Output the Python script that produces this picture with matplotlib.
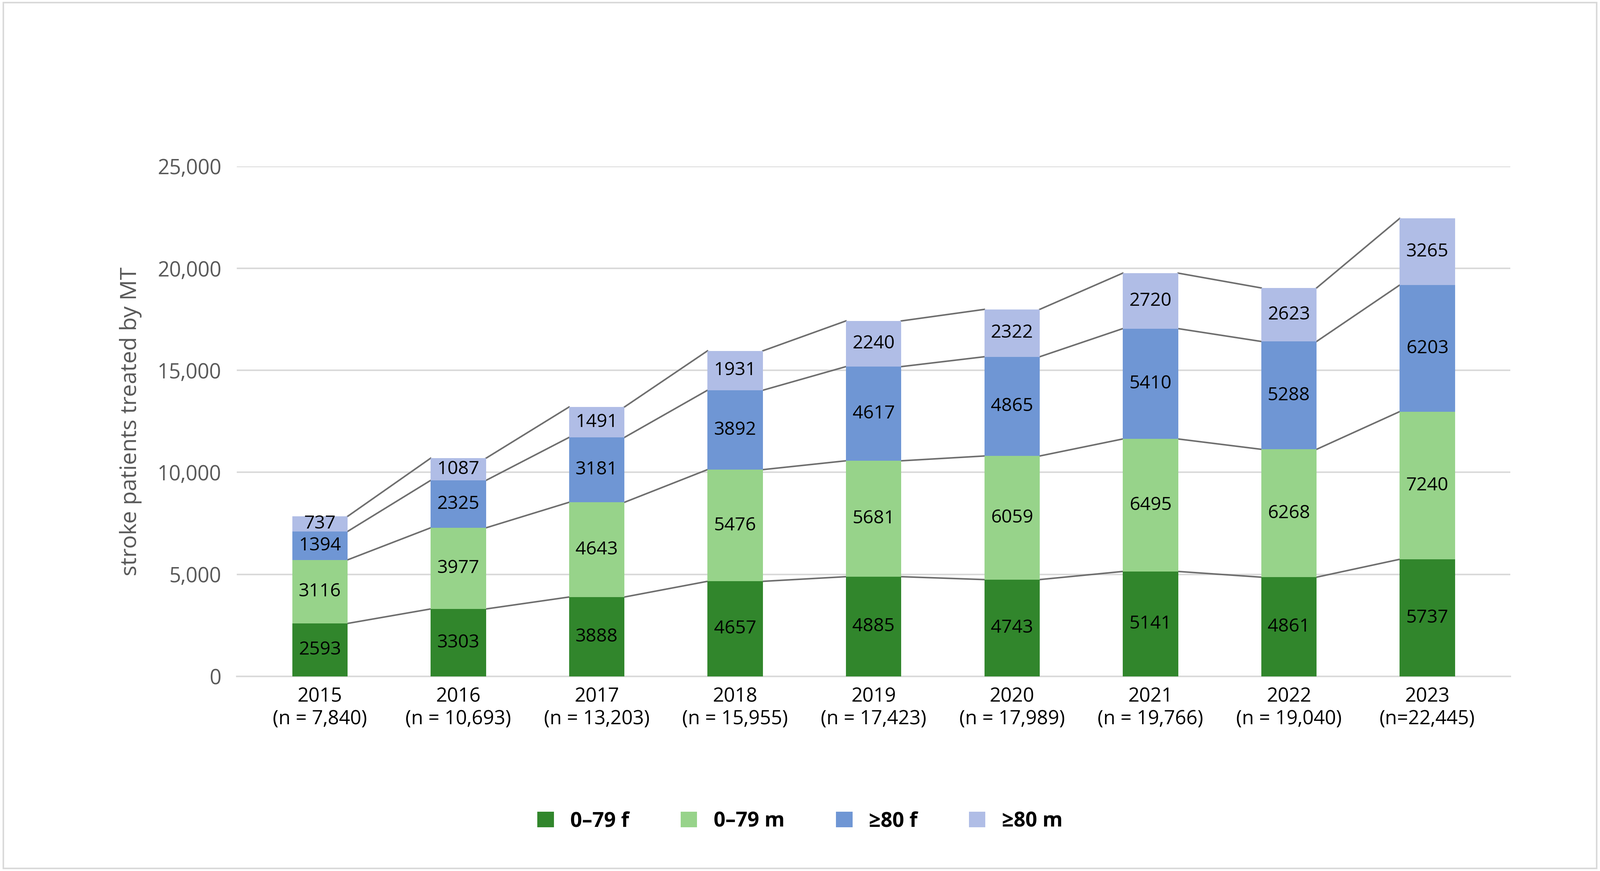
import matplotlib
matplotlib.use("Agg")
import matplotlib.pyplot as plt
import numpy as np

years = ["2015\n(n = 7,840)", "2016\n(n = 10,693)", "2017\n(n = 13,203)", "2018\n(n = 15,955)",
         "2019\n(n = 17,423)", "2020\n(n = 17,989)", "2021\n(n = 19,766)", "2022\n(n = 19,040)", "2023\n(n=22,445)"]
f0_79 = [2593, 3303, 3888, 4657, 4885, 4743, 5141, 4861, 5737]
m0_79 = [3116, 3977, 4643, 5476, 5681, 6059, 6495, 6268, 7240]
f80 = [1394, 2325, 3181, 3892, 4617, 4865, 5410, 5288, 6203]
m80 = [737, 1087, 1491, 1931, 2240, 2322, 2720, 2623, 3265]
series = [("0\u201379 f", f0_79, "#31862C"), ("0\u201379 m", m0_79, "#97D38A"),
          ("\u226580 f", f80, "#6F96D4"), ("\u226580 m", m80, "#B0BDE6")]

plt.rcParams["font.family"] = "Open Sans"
fig = plt.figure(figsize=(43.18, 23.5), dpi=100)
ax = fig.add_axes([0.148, 0.2235, 0.796, 0.5855])
x = np.arange(len(years))
w = 0.4
bottom = np.zeros(len(years))
for name, vals, col in series:
    v = np.array(vals, float)
    ax.bar(x, v, w, bottom=bottom, color=col, label=name, zorder=3)
    for xi, b, vi in zip(x, bottom, v):
        ax.text(xi, b + vi / 2, str(int(vi)), ha="center", va="center", fontsize=36, zorder=4)
    bottom = bottom + v
    for i in range(len(years) - 1):
        ax.plot([x[i] + w / 2, x[i + 1] - w / 2], [bottom[i], bottom[i + 1]], color="#6e6e6e", lw=3, zorder=2)

ax.set_ylim(0, 25000)
ax.set_xlim(-0.6, len(years) - 0.4)
ax.set_yticks(range(0, 25001, 5000))
ax.set_yticklabels([f"{v:,}" for v in range(0, 25001, 5000)], fontsize=40, color="#595959")
ax.set_xticks(x)
ax.set_xticklabels(years, fontsize=38)
ax.tick_params(length=0, pad=20)
ax.tick_params(axis="y", pad=30)
ax.grid(axis="y", color="#d9d9d9", lw=3, zorder=0)
for s in ["top", "right", "left"]:
    ax.spines[s].set_visible(False)
ax.spines["bottom"].set_color("#d9d9d9")
ax.spines["bottom"].set_linewidth(3)
ax.set_ylabel("stroke patients treated by MT", fontsize=44, color="#595959", labelpad=30)
leg = fig.legend(loc="center", bbox_to_anchor=(0.5, 0.057), ncol=4, frameon=False,
                 prop={"weight": "bold", "size": 40}, handlelength=0.8, handleheight=0.8, columnspacing=2.5)
fig.patches.append(plt.Rectangle((0.002, 0.003), 0.996, 0.994, transform=fig.transFigure,
                                 fill=False, edgecolor="#d9d9d9", lw=3))
fig.savefig("out.png", dpi=100)
